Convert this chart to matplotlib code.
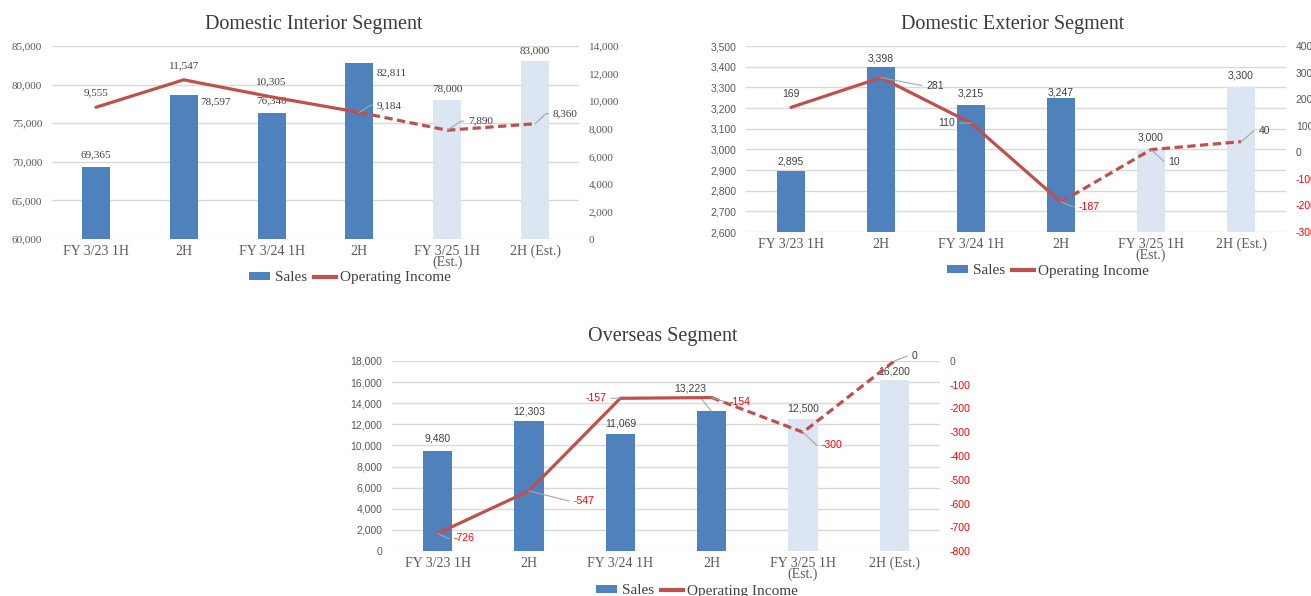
import math

import matplotlib.pyplot as plt
from matplotlib.lines import Line2D
from matplotlib.patches import Patch

# half-year periods; the last two are company estimates
periods = ["FY 3/23 1H", "2H", "FY 3/24 1H", "2H", "FY 3/25 1H\n(Est.)", "2H (Est.)"]
n_actual = 4

interior_sales = [69365, 78597, 76340, 82811, 78000, 83000]
interior_income = [9555, 11547, 10305, 9184, 7890, 8360]

exterior_sales = [2895, 3398, 3215, 3247, 3000, 3300]
exterior_income = [169, 281, 110, -187, 10, 40]

overseas_sales = [9480, 12303, 11069, 13223, 12500, 16200]
overseas_income = [-726, -547, -157, -154, -300, 0]

interior_sales_ticks = list(range(60000, 85001, 5000))
interior_income_ticks = list(range(0, 14001, 2000))
exterior_sales_ticks = list(range(2600, 3501, 100))
exterior_income_ticks = list(range(-300, 401, 100))
overseas_sales_ticks = list(range(0, 18001, 2000))
overseas_income_ticks = list(range(-800, 1, 100))

BLUE = "#4F81BD"
BLUE_EST = "#DCE6F2"
RED = "#C0504D"
GRID = "#D9D9D9"
AXIS_TXT = "#595959"
LABEL_TXT = "#404040"
NEG_TXT = "#FF0000"
LEADER = "#A6A6A6"
SERIF = "Liberation Serif"
SANS = "Liberation Sans"

W, H = 1311, 596


def fx(px):
    return px / W


def fy(py):
    return 1 - py / H


def put_label(ax, x, y, text, off, color, family, size):
    dx, dy, leader = off
    kw = {}
    if leader == "side":
        # diagonal from the point, then a short horizontal run into the text
        half_w = len(text) * size * 0.55 * (100 / 72) / 2
        run = abs(dx) - half_w - 4
        if dy == 0 or run <= 2:
            conn = "arc3"
        else:
            ang = math.degrees(math.atan2(dy, run if dx > 0 else -run))
            conn = f"angle,angleA=0,angleB={ang:.1f},rad=0"
        kw["arrowprops"] = dict(arrowstyle="-", color=LEADER, lw=0.8, shrinkA=1, shrinkB=0,
                                relpos=(0 if dx > 0 else 1, 0.5), connectionstyle=conn)
    elif leader == "below":
        kw["arrowprops"] = dict(arrowstyle="-", color=LEADER, lw=0.8, shrinkA=1, shrinkB=0,
                                relpos=(0.7, 0))
    ax.annotate(text, (x, y), xytext=(dx, dy), textcoords="offset pixels",
                ha="center", va="center", color=color, family=family, fontsize=size,
                zorder=6, **kw)


def draw_segment(rect, title, title_xy, legend_xy, sales, income, sales_ticks, income_ticks,
                 num_family, sales_offsets, income_offsets):
    ax = fig.add_axes(rect)
    ax2 = ax.twinx()
    xs = list(range(len(periods)))
    size = 8 if num_family == SERIF else 7.5

    colors = [BLUE if i < n_actual else BLUE_EST for i in xs]
    ax.bar(xs, [s - sales_ticks[0] for s in sales], width=0.32, bottom=sales_ticks[0],
           color=colors, zorder=2)
    ax.set_xlim(-0.5, len(periods) - 0.5)
    ax.set_ylim(sales_ticks[0], sales_ticks[-1])
    ax.set_yticks(sales_ticks)
    ax.set_yticklabels([f"{t:,}" for t in sales_ticks])
    ax.yaxis.grid(True, color=GRID, lw=1)
    ax.set_axisbelow(True)
    ax.set_xticks(xs)
    ax.set_xticklabels(periods, family=SERIF, fontsize=10, color=AXIS_TXT, linespacing=0.85)
    ax.tick_params(axis="x", length=0, pad=4)
    ax.tick_params(axis="y", length=0, pad=7, labelsize=size, labelcolor=AXIS_TXT)
    for t in ax.get_yticklabels():
        t.set_family(num_family)

    ax2.plot(xs[:n_actual], income[:n_actual], color=RED, lw=2.3, solid_capstyle="round", zorder=4)
    ax2.plot(xs[n_actual - 1:], income[n_actual - 1:], color=RED, lw=2.3, dashes=(2.6, 1.4),
             zorder=4)
    ax2.set_ylim(income_ticks[0], income_ticks[-1])
    ax2.set_yticks(income_ticks)
    ax2.set_yticklabels([f"{t:,}" for t in income_ticks])
    ax2.tick_params(axis="y", length=0, pad=7, labelsize=size)
    for t, v in zip(ax2.get_yticklabels(), income_ticks):
        t.set_family(num_family)
        t.set_color(NEG_TXT if v < 0 else AXIS_TXT)

    for a in (ax, ax2):
        for s in a.spines.values():
            s.set_visible(False)

    for x, s, off in zip(xs, sales, sales_offsets):
        put_label(ax, x, s, f"{s:,}", off, LABEL_TXT, num_family, size)
    for x, v, off in zip(xs, income, income_offsets):
        put_label(ax2, x, v, f"{v:,}", off, NEG_TXT if v < 0 else LABEL_TXT, num_family, size)

    fig.text(fx(title_xy[0]), fy(title_xy[1]), title, ha="center", va="center",
             family=SERIF, fontsize=14.5, color="#3A3A3A")

    handles = [Patch(facecolor=BLUE), Line2D([], [], color=RED, lw=3)]
    fig.legend(handles, ["Sales", "Operating Income"], loc="center",
               bbox_to_anchor=(fx(legend_xy[0]), fy(legend_xy[1])), ncol=2, frameon=False,
               prop=dict(family=SERIF, size=11), labelcolor="#404040",
               handlelength=1.4, handleheight=0.5, handletextpad=0.3, columnspacing=0.5,
               borderpad=0, borderaxespad=0)


fig = plt.figure(figsize=(W / 100, H / 100), dpi=100)

draw_segment([fx(52), fy(239), 527 / W, 193 / H], "Domestic Interior Segment", (314, 25), (350, 278),
             interior_sales, interior_income, interior_sales_ticks, interior_income_ticks, SERIF,
             [(0, 12, None), (32, -6, None), (0, 12, None), (32, -10, None), (0, 11, None), (0, 11, None)],
             [(0, 14, None), (0, 14, None), (0, 15, None), (30, 7, "side"), (33, 9, "side"), (30, 10, "side")])

draw_segment([fx(746), fy(232), 540 / W, 186 / H], "Domestic Exterior Segment", (1013, 25), (1048, 271),
             exterior_sales, exterior_income, exterior_sales_ticks, exterior_income_ticks, SANS,
             [(0, 10, None), (0, 9, None), (0, 11, None), (0, 6, None), (0, 12, None), (0, 12, None)],
             [(0, 13, None), (54, -8, "side"), (-24, 0, "side"), (28, -5, "side"), (23, -12, "side"), (23, 11, "side")])

draw_segment([fx(392), fy(551), 548 / W, 190 / H], "Overseas Segment", (663, 336), (697, 591),
             overseas_sales, overseas_income, overseas_sales_ticks, overseas_income_ticks, SANS,
             [(0, 12, None), (0, 10, None), (0, 11, None), (-21, 23, "below"), (0, 11, None), (0, 9, None)],
             [(26, -5, "side"), (55, -10, "side"), (-24, 0, "side"), (28, -4, "side"), (29, -13, "side"), (20, 5, "side")])

fig.savefig("out.png", dpi=100)
